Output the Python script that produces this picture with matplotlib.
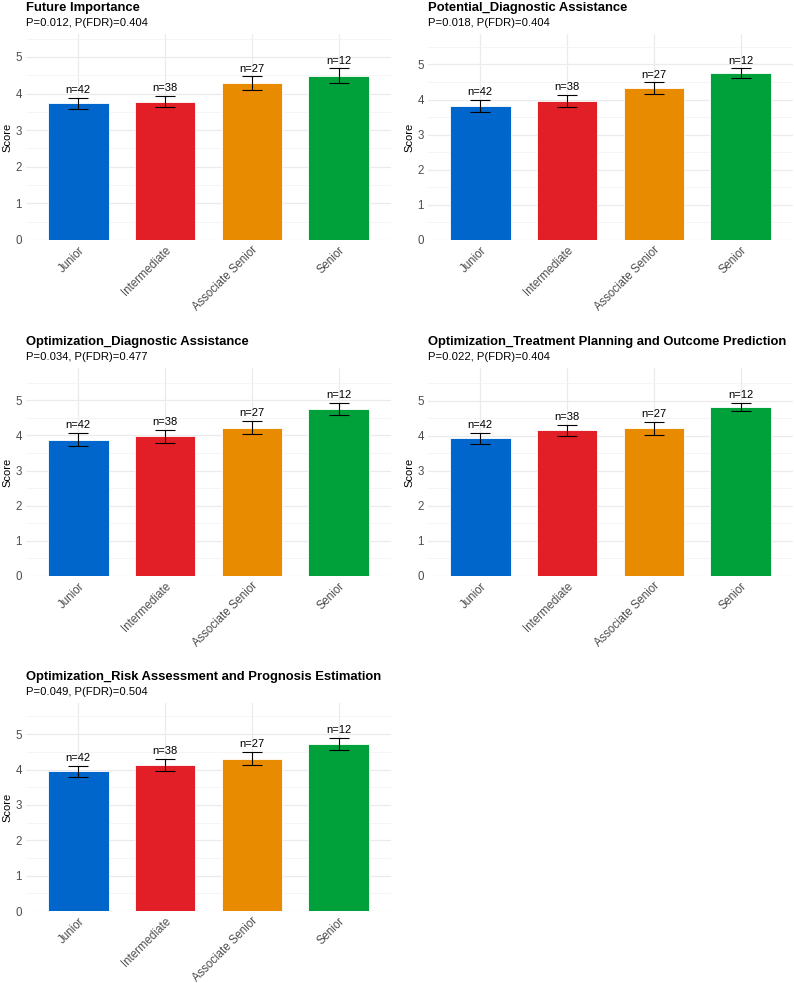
import numpy as np
import matplotlib
matplotlib.use("Agg")
import matplotlib.pyplot as plt

plt.rcParams['font.family'] = ['Liberation Sans', 'DejaVu Sans']

groups = ["Junior", "Intermediate", "Associate Senior", "Senior"]
counts = [42, 38, 27, 12]
colors = ["#0066CC", "#E21E26", "#E88B00", "#00A03A"]

titles = [
    "Future Importance",
    "Potential_Diagnostic Assistance",
    "Optimization_Diagnostic Assistance",
    "Optimization_Treatment Planning and Outcome Prediction",
    "Optimization_Risk Assessment and Prognosis Estimation",
]
p_raw = ["0.012", "0.018", "0.034", "0.022", "0.049"]
p_fdr = ["0.404", "0.404", "0.477", "0.404", "0.504"]

means_future = [3.73, 3.78, 4.29, 4.49]
se_future = [0.15, 0.15, 0.18, 0.20]
means_pot_diag = [3.83, 3.97, 4.32, 4.75]
se_pot_diag = [0.17, 0.17, 0.17, 0.14]
means_opt_diag = [3.88, 3.97, 4.22, 4.75]
se_opt_diag = [0.18, 0.19, 0.19, 0.18]
means_opt_treat = [3.93, 4.16, 4.22, 4.83]
se_opt_treat = [0.15, 0.16, 0.19, 0.12]
means_opt_risk = [3.95, 4.13, 4.31, 4.73]
se_opt_risk = [0.16, 0.17, 0.18, 0.17]

all_means = [means_future, means_pot_diag, means_opt_diag, means_opt_treat, means_opt_risk]
all_se = [se_future, se_pot_diag, se_opt_diag, se_opt_treat, se_opt_risk]

fig = plt.figure(figsize=(7.94, 9.83), dpi=100)

W, H = 794, 983
col_x = [26, 428]
col_w = 365
row_y = [(34, 240), (368, 576), (703, 911)]

for i in range(5):
    r, c = divmod(i, 2)
    top, bot = row_y[r]
    ax = fig.add_axes([col_x[c] / W, 1 - bot / H, col_w / W, (bot - top) / H])
    m = np.array(all_means[i])
    s = np.array(all_se[i])
    x = np.arange(len(groups))

    ax.bar(x, m, width=0.7, color=colors, edgecolor="white", linewidth=0.6, zorder=2)
    ax.errorbar(x, m, yerr=s, fmt="none", ecolor="black", elinewidth=0.8,
                capsize=7, capthick=0.8, zorder=3)
    for xi, yi, n in zip(x, m + s, counts):
        ax.annotate(f"n={n}", (xi, yi), xytext=(0, 2), textcoords="offset points",
                    ha="center", va="bottom", fontsize=8, color="black")

    ax.set_xlim(-0.6, len(groups) - 0.4)
    ax.set_ylim(0, 1.2 * np.max(m + s))
    ax.set_yticks(range(6))
    ax.set_yticks(np.arange(0.5, 6, 1), minor=True)
    ax.set_xticks(x)
    ax.set_xticklabels(groups, rotation=45, ha="right", rotation_mode="anchor")
    ax.tick_params(axis="both", length=0, labelsize=8.3, colors="#4D4D4D", pad=3)
    ax.tick_params(axis="y", which="minor", length=0)
    ax.grid(True, which="major", color="#EBEBEB", linewidth=0.9, zorder=0)
    ax.grid(True, which="minor", axis="y", color="#F2F2F2", linewidth=0.5, zorder=0)
    ax.set_axisbelow(True)
    for sp in ax.spines.values():
        sp.set_visible(False)
    ax.set_ylabel("Score", fontsize=8, color="black", labelpad=2)

    ax.annotate(titles[i], (0, 1), xycoords="axes fraction", xytext=(0, 16.5),
                textcoords="offset points", ha="left", va="baseline",
                fontsize=9.4, fontweight="bold")
    ax.annotate(f"P={p_raw[i]}, P(FDR)={p_fdr[i]}", (0, 1), xycoords="axes fraction",
                xytext=(0, 5.5), textcoords="offset points", ha="left", va="baseline",
                fontsize=8.1)

fig.savefig("out.png", dpi=100, facecolor="white")
